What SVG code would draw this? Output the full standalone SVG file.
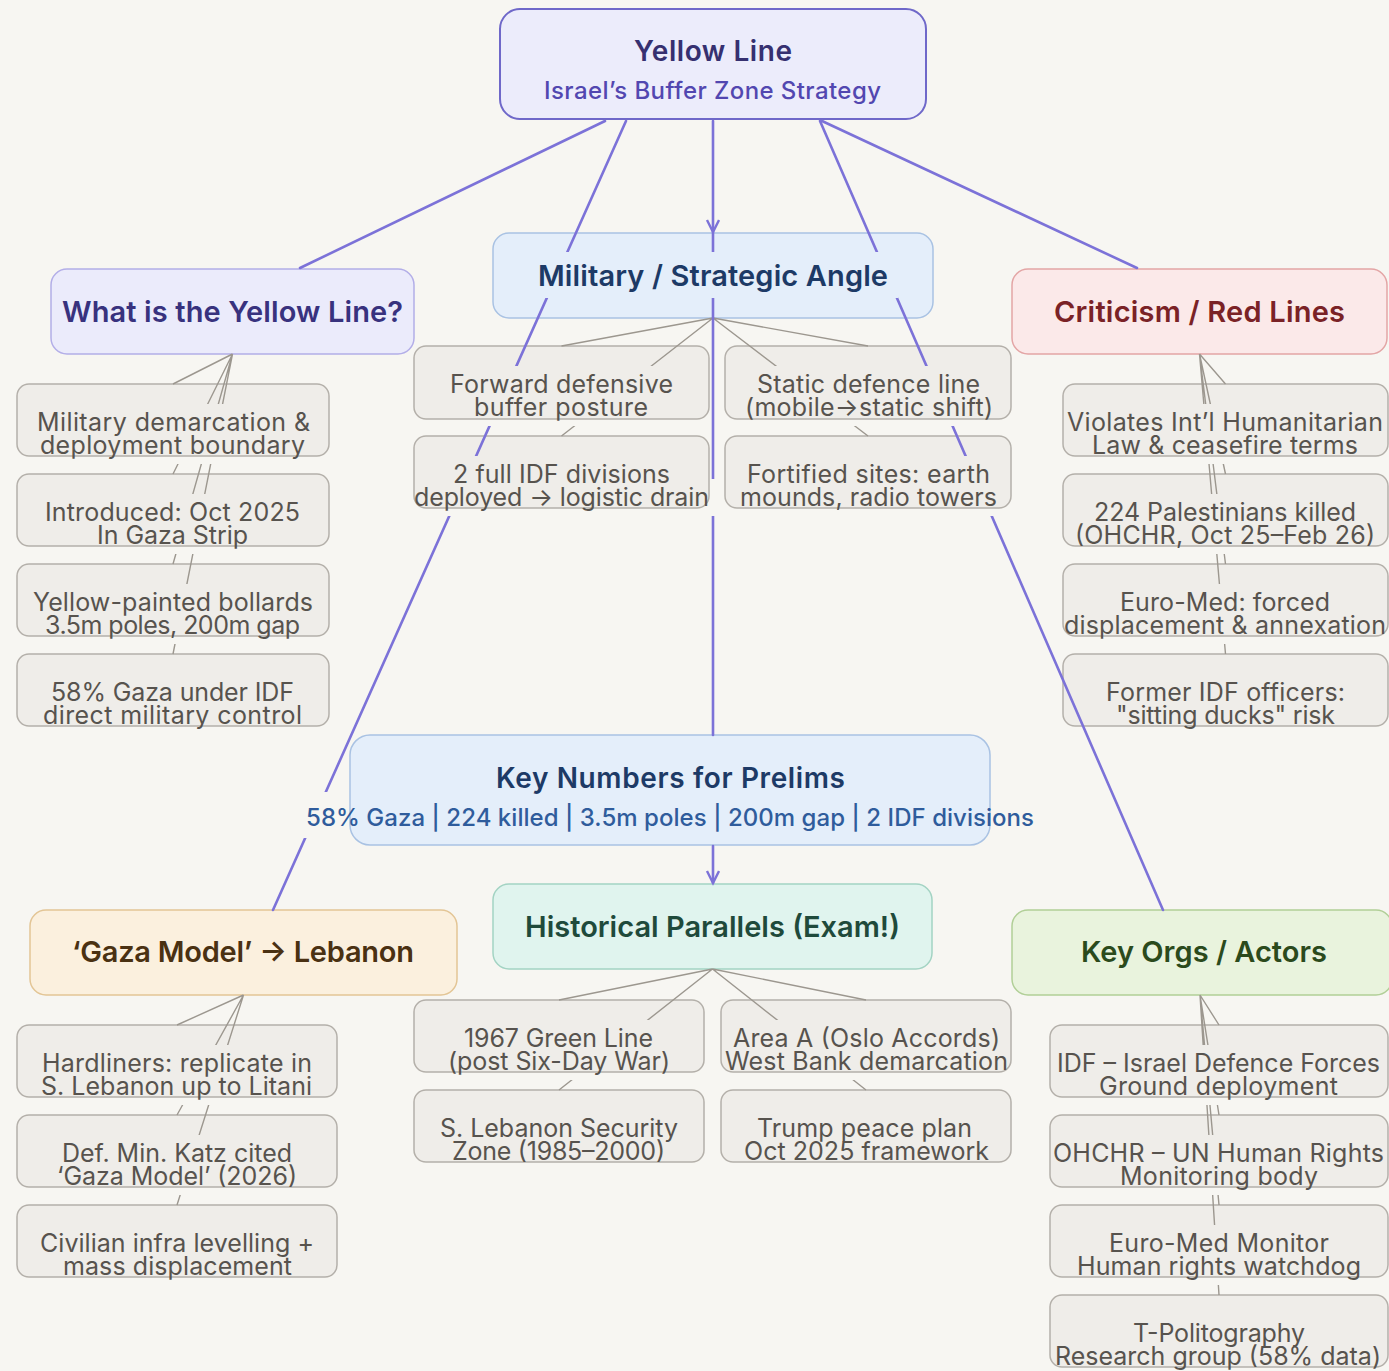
<svg xmlns="http://www.w3.org/2000/svg" width="1389" height="1371" viewBox="0 0 1389 1371">
<style>
text{font-family:Inter,"Noto Sans","Liberation Sans",sans-serif;text-anchor:middle}
.h{font-size:29px;font-weight:600}
.c{font-size:25px;font-weight:400;fill:#57534e}
.child{fill:#efede9;stroke:#b4b0aa;stroke-width:1.5}
.pe{fill:none;stroke:#7c72d8;stroke-width:2.6;stroke-linecap:round}
.ge{fill:none;stroke:#9c978f;stroke-width:1.4}
</style>
<defs>
<marker id="arr" markerUnits="userSpaceOnUse" markerWidth="16" markerHeight="16" refX="13" refY="7" orient="auto">
<path d="M1,1 L13,7 L1,13" fill="none" stroke="#7c72d8" stroke-width="2.4"/>
</marker>
<mask id="lbl" maskUnits="userSpaceOnUse" x="0" y="0" width="1389" height="1371">
<rect width="1389" height="1371" fill="#fff"/>
<g fill="#000">
<rect x="52" y="288" width="361" height="46"/>
<rect x="528" y="252" width="370" height="46"/>
<rect x="1044" y="288" width="311" height="46"/>
<rect x="296" y="792" width="748" height="46"/>
<rect x="31" y="404" width="285" height="37"/>
<rect x="34" y="427" width="277" height="37"/>
<rect x="39" y="494" width="267" height="37"/>
<rect x="91" y="517" width="163" height="37"/>
<rect x="27" y="584" width="292" height="37"/>
<rect x="39" y="607" width="267" height="37"/>
<rect x="45" y="674" width="255" height="37"/>
<rect x="37" y="697" width="271" height="37"/>
<rect x="444" y="366" width="235" height="37"/>
<rect x="468" y="389" width="186" height="37"/>
<rect x="751" y="366" width="235" height="37"/>
<rect x="739" y="389" width="260" height="37"/>
<rect x="447" y="456" width="229" height="37"/>
<rect x="408" y="479" width="308" height="37"/>
<rect x="741" y="456" width="255" height="37"/>
<rect x="734" y="479" width="269" height="37"/>
<rect x="1061" y="404" width="328" height="37"/>
<rect x="1086" y="427" width="278" height="37"/>
<rect x="1088" y="494" width="274" height="37"/>
<rect x="1069" y="517" width="312" height="37"/>
<rect x="1114" y="584" width="222" height="37"/>
<rect x="1057" y="607" width="332" height="37"/>
<rect x="1100" y="674" width="251" height="37"/>
<rect x="1110" y="697" width="231" height="37"/>
<rect x="36" y="1045" width="282" height="37"/>
<rect x="35" y="1068" width="283" height="37"/>
<rect x="56" y="1135" width="242" height="37"/>
<rect x="51" y="1158" width="252" height="37"/>
<rect x="34" y="1225" width="286" height="37"/>
<rect x="57" y="1248" width="241" height="37"/>
<rect x="458" y="1020" width="201" height="37"/>
<rect x="442" y="1043" width="234" height="37"/>
<rect x="727" y="1020" width="279" height="37"/>
<rect x="719" y="1043" width="295" height="37"/>
<rect x="434" y="1110" width="250" height="37"/>
<rect x="446" y="1133" width="225" height="37"/>
<rect x="751" y="1110" width="227" height="37"/>
<rect x="738" y="1133" width="257" height="37"/>
<rect x="1051" y="1045" width="335" height="37"/>
<rect x="1093" y="1068" width="251" height="37"/>
<rect x="1047" y="1135" width="343" height="37"/>
<rect x="1114" y="1158" width="210" height="37"/>
<rect x="1103" y="1225" width="232" height="37"/>
<rect x="1071" y="1248" width="296" height="37"/>
<rect x="1127" y="1315" width="184" height="37"/>
<rect x="1049" y="1338" width="338" height="37"/>
</g>
</mask>
</defs>
<rect width="1389" height="1371" fill="#f7f6f2"/>

<g id="n-root">
<rect x="500" y="9" width="426" height="110" rx="20" fill="#ececfb" stroke="#6f68c9" stroke-width="2"/>
<text x="713" y="61" font-size="28" font-weight="600" fill="#363070" textLength="158">Yellow Line</text>
<text x="712.5" y="99" font-size="24" font-weight="500" fill="#5247b0" textLength="337">Israel’s Buffer Zone Strategy</text>
</g>

<g id="n-what">
<rect x="51" y="269" width="363" height="85" rx="16" fill="#ebebfb" stroke="#b3aee8" stroke-width="1.5"/>
<text class="h" x="232.5" y="322" fill="#38327e" textLength="341">What is the Yellow Line?</text>
</g>
<g id="n-military">
<rect x="493" y="233" width="440" height="85" rx="16" fill="#e4eefa" stroke="#a9c2e3" stroke-width="1.5"/>
<text class="h" x="713" y="286" fill="#1d3a66" textLength="350">Military / Strategic Angle</text>
</g>
<g id="n-criticism">
<rect x="1012" y="269" width="375" height="85" rx="16" fill="#fbe9e9" stroke="#e3a5a5" stroke-width="1.5"/>
<text class="h" x="1199.5" y="322" fill="#7a2226" textLength="291">Criticism / Red Lines</text>
</g>

<g id="n-w1"><rect class="child" x="17" y="384" width="312" height="72" rx="12"/>
<text class="c" x="173.5" y="431" textLength="273">Military demarcation &amp;</text>
<text class="c" x="172.5" y="454" textLength="265">deployment boundary</text></g>
<g id="n-w2"><rect class="child" x="17" y="474" width="312" height="72" rx="12"/>
<text class="c" x="172.5" y="521" textLength="255">Introduced: Oct 2025</text>
<text class="c" x="172.5" y="544" textLength="151">In Gaza Strip</text></g>
<g id="n-w3"><rect class="child" x="17" y="564" width="312" height="72" rx="12"/>
<text class="c" x="173" y="611" textLength="280">Yellow-painted bollards</text>
<text class="c" x="172.5" y="634" textLength="255">3.5m poles, 200m gap</text></g>
<g id="n-w4"><rect class="child" x="17" y="654" width="312" height="72" rx="12"/>
<text class="c" x="172.5" y="701" textLength="243">58% Gaza under IDF</text>
<text class="c" x="172.5" y="724" textLength="259">direct military control</text></g>

<g id="n-m1"><rect class="child" x="414" y="346" width="295" height="73" rx="12"/>
<text class="c" x="561.5" y="393" textLength="223">Forward defensive</text>
<text class="c" x="561" y="416" textLength="174">buffer posture</text></g>
<g id="n-m2"><rect class="child" x="725" y="346" width="286" height="73" rx="12"/>
<text class="c" x="868.5" y="393" textLength="223">Static defence line</text>
<text class="c" x="869" y="416" textLength="248">(mobile→static shift)</text></g>
<g id="n-m3"><rect class="child" x="414" y="436" width="295" height="72" rx="12"/>
<text class="c" x="561.5" y="483" textLength="217">2 full IDF divisions</text>
<text class="c" x="561.5" y="506" textLength="295">deployed → logistic drain</text></g>
<g id="n-m4"><rect class="child" x="725" y="436" width="286" height="72" rx="12"/>
<text class="c" x="868.5" y="483" textLength="243">Fortified sites: earth</text>
<text class="c" x="868.5" y="506" textLength="257">mounds, radio towers</text></g>

<g id="n-c1"><rect class="child" x="1063" y="384" width="325" height="72" rx="12"/>
<text class="c" x="1225" y="431" textLength="316">Violates Int’l Humanitarian</text>
<text class="c" x="1225" y="454" textLength="266">Law &amp; ceasefire terms</text></g>
<g id="n-c2"><rect class="child" x="1063" y="474" width="325" height="72" rx="12"/>
<text class="c" x="1225" y="521" textLength="262">224 Palestinians killed</text>
<text class="c" x="1225" y="544" textLength="300">(OHCHR, Oct 25–Feb 26)</text></g>
<g id="n-c3"><rect class="child" x="1063" y="564" width="325" height="72" rx="12"/>
<text class="c" x="1225" y="611" textLength="210">Euro-Med: forced</text>
<text class="c" x="1225" y="634" textLength="322">displacement &amp; annexation</text></g>
<g id="n-c4"><rect class="child" x="1063" y="654" width="325" height="72" rx="12"/>
<text class="c" x="1225.5" y="701" textLength="239">Former IDF officers:</text>
<text class="c" x="1225.5" y="724" textLength="219">"sitting ducks" risk</text></g>

<g id="n-keynumbers">
<rect x="350" y="735" width="640" height="110" rx="20" fill="#e4eefa" stroke="#a9c2e3" stroke-width="1.5"/>
<text x="670.5" y="788" font-size="28" font-weight="600" fill="#1d3a66" textLength="349">Key Numbers for Prelims</text>
<text x="670" y="826" font-size="24" font-weight="500" fill="#2f5c9c" textLength="728">58% Gaza | 224 killed | 3.5m poles | 200m gap | 2 IDF divisions</text>
</g>

<g id="n-historical">
<rect x="493" y="884" width="439" height="85" rx="16" fill="#e0f4ee" stroke="#a3d3c3" stroke-width="1.5"/>
<text class="h" x="712.5" y="937" fill="#1f4a3b" textLength="375">Historical Parallels (Exam!)</text>
</g>
<g id="n-gaza">
<rect x="30" y="910" width="427" height="85" rx="16" fill="#fbf0de" stroke="#e3c595" stroke-width="1.5"/>
<text class="h" x="243" y="962" fill="#4a3112" textLength="342">‘Gaza Model’ → Lebanon</text>
</g>
<g id="n-orgs">
<rect x="1012" y="910" width="380" height="85" rx="16" fill="#e9f3dd" stroke="#b1cf97" stroke-width="1.5"/>
<text class="h" x="1204" y="962" fill="#2b4a1c" textLength="246">Key Orgs / Actors</text>
</g>

<g id="n-g1"><rect class="child" x="17" y="1025" width="320" height="72" rx="12"/>
<text class="c" x="177" y="1072" textLength="270">Hardliners: replicate in</text>
<text class="c" x="176.5" y="1095" textLength="271">S. Lebanon up to Litani</text></g>
<g id="n-g2"><rect class="child" x="17" y="1115" width="320" height="72" rx="12"/>
<text class="c" x="177" y="1162" textLength="230">Def. Min. Katz cited</text>
<text class="c" x="177" y="1185" textLength="240">‘Gaza Model’ (2026)</text></g>
<g id="n-g3"><rect class="child" x="17" y="1205" width="320" height="72" rx="12"/>
<text class="c" x="177" y="1252" textLength="274">Civilian infra levelling +</text>
<text class="c" x="177.5" y="1275" textLength="229">mass displacement</text></g>

<g id="n-h1"><rect class="child" x="414" y="1000" width="290" height="72" rx="12"/>
<text class="c" x="558.5" y="1047" textLength="189">1967 Green Line</text>
<text class="c" x="559" y="1070" textLength="222">(post Six-Day War)</text></g>
<g id="n-h2"><rect class="child" x="721" y="1000" width="290" height="72" rx="12"/>
<text class="c" x="866.5" y="1047" textLength="267">Area A (Oslo Accords)</text>
<text class="c" x="866.5" y="1070" textLength="283">West Bank demarcation</text></g>
<g id="n-h3"><rect class="child" x="414" y="1090" width="290" height="72" rx="12"/>
<text class="c" x="559" y="1137" textLength="238">S. Lebanon Security</text>
<text class="c" x="558.5" y="1160" textLength="213">Zone (1985–2000)</text></g>
<g id="n-h4"><rect class="child" x="721" y="1090" width="290" height="72" rx="12"/>
<text class="c" x="864.5" y="1137" textLength="215">Trump peace plan</text>
<text class="c" x="866.5" y="1160" textLength="245">Oct 2025 framework</text></g>

<g id="n-o1"><rect class="child" x="1050" y="1025" width="338" height="72" rx="12"/>
<text class="c" x="1218.5" y="1072" textLength="323">IDF – Israel Defence Forces</text>
<text class="c" x="1218.5" y="1095" textLength="239">Ground deployment</text></g>
<g id="n-o2"><rect class="child" x="1050" y="1115" width="338" height="72" rx="12"/>
<text class="c" x="1218.5" y="1162" textLength="331">OHCHR – UN Human Rights</text>
<text class="c" x="1219" y="1185" textLength="198">Monitoring body</text></g>
<g id="n-o3"><rect class="child" x="1050" y="1205" width="338" height="72" rx="12"/>
<text class="c" x="1219" y="1252" textLength="220">Euro-Med Monitor</text>
<text class="c" x="1219" y="1275" textLength="284">Human rights watchdog</text></g>
<g id="n-o4"><rect class="child" x="1050" y="1295" width="338" height="72" rx="12"/>
<text class="c" x="1219" y="1342" textLength="172">T-Politography</text>
<text class="c" x="1218" y="1365" textLength="326">Research group (58% data)</text></g>

<g id="connectors" mask="url(#lbl)">
<path class="ge" d="M232.5,354 L173,384 M232.5,354 L173,474 M232.5,354 L173,564 M232.5,354 L173,654"/>
<path class="ge" d="M713,318 L561.5,346 M713,318 L868,346 M713,318 L561.5,436 M713,318 L868,436"/>
<path class="ge" d="M1199.5,354 L1225.5,384 M1199.5,354 L1225.5,474 M1199.5,354 L1225.5,564 M1199.5,354 L1225.5,654"/>
<path class="ge" d="M243.5,995 L177,1025 M243.5,995 L177,1115 M243.5,995 L177,1205"/>
<path class="ge" d="M712.5,969 L559,1000 M712.5,969 L866,1000 M712.5,969 L559,1090 M712.5,969 L866,1090"/>
<path class="ge" d="M1200,995 L1219,1025 M1200,995 L1219,1115 M1200,995 L1219,1205 M1200,995 L1219,1295"/>
<path class="pe" d="M605,121 L300,268"/>
<path class="pe" d="M822,121 L1137,268"/>
<path class="pe" d="M626,121 L273,910"/>
<path class="pe" d="M820,121 L1163,910"/>
<path class="pe" d="M713,121 L713,232" marker-end="url(#arr)"/>
<path class="pe" d="M713,233 L713,735"/>
<path class="pe" d="M713,846 L713,883" marker-end="url(#arr)"/>
</g>
</svg>
